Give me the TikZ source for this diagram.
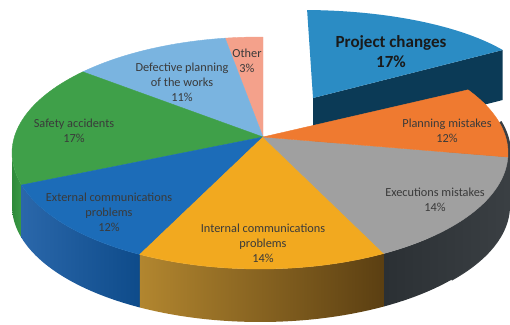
\documentclass[tikz,border=0pt]{standalone}
\usepackage{fontspec}
\setmainfont{Carlito}
\definecolor{cOther}{HTML}{F4A18B}
\definecolor{cDef}{HTML}{7AB4E0}
\definecolor{cSafe}{HTML}{3FA049}
\definecolor{cExt}{HTML}{1C6CB8}
\definecolor{cInt}{HTML}{F2A91F}
\definecolor{cExe}{HTML}{A0A0A0}
\definecolor{cPlan}{HTML}{EF7A30}
\definecolor{cProj}{HTML}{2B8CC4}
\definecolor{cProjSide}{HTML}{0B3A56}
\definecolor{sSafeL}{HTML}{2E8A3A}
\definecolor{sSafeR}{HTML}{3A9A45}
\definecolor{sExtL}{HTML}{2A67AA}
\definecolor{sExtR}{HTML}{0E4B8A}
\definecolor{sIntL}{HTML}{B2862F}
\definecolor{sIntR}{HTML}{5B3F12}
\definecolor{sExeL}{HTML}{2B3034}
\definecolor{sExeR}{HTML}{3A3F43}
\definecolor{labelgray}{HTML}{3A3A3A}
\definecolor{titleblack}{HTML}{1A1A1A}
\newcommand{\pieTop}[3]{%
  \filldraw[fill=#1, draw=#1, line width=0.4pt] (263,137) -- plot[domain=#2:#3, samples=40, variable=\t] ({260+248*cos(\t)},{153-116*sin(\t)}) -- cycle;}
\newcommand{\pieSide}[4]{%
  \shade[left color=#1, right color=#2] plot[domain=#3:#4, samples=30, variable=\t] ({260+248*cos(\t)},{153-116*sin(\t)}) -- plot[domain=#4:#3, samples=30, variable=\t] ({260+248*cos(\t)},{206-116*sin(\t)}) -- cycle;}
\begin{document}
\begin{tikzpicture}[x=1pt,y=-1pt,
  lbl/.style={text=labelgray, align=center, font=\fontsize{12.3}{14.8}\selectfont, inner sep=0pt},
  ttl/.style={text=titleblack, align=center, font=\bfseries\fontsize{17}{20}\selectfont, inner sep=0pt}]
\useasboundingbox (0,0) rectangle (510,324);
% exploded slice
\fill[cProjSide] (313,98) -- (502.7,50) -- (502.7,100) -- (313,148) -- cycle;
\fill[cProj] (313,98) -- plot[domain=89:31.8, samples=40, variable=\t] ({303+235*cos(\t)},{94.6-84.6*sin(\t)}) -- cycle;
% right-hand dark rim strip (perspective)
\fill[sExeR] plot[domain=16:-2, samples=20, variable=\t] ({263+248*cos(\t)},{153-116*sin(\t)}) -- plot[domain=-2:-40, samples=20, variable=\t] ({262+248*cos(\t)},{206-116*sin(\t)}) -- (400,180) -- cycle;
% sides
\pieSide{sSafeL}{sSafeR}{180}{196}
\pieSide{sExtL}{sExtR}{196}{241}
\pieSide{sIntL}{sIntR}{241}{300}
\pieSide{sExeL}{sExeR}{300}{360}
% tops
\pieTop{cOther}{89.3}{98.1}
\pieTop{cDef}{98.1}{135.6}
\pieTop{cSafe}{135.6}{196}
\pieTop{cExt}{196}{241}
\pieTop{cInt}{241}{300}
\pieTop{cExe}{300}{358}
\pieTop{cPlan}{358}{393}
% labels
\node[ttl] (proj) at (391,52) {Project changes\\17\%};
\node[lbl] (plan) at (447,131) {Planning mistakes\\12\%};
\node[lbl] (exe) at (435,200) {Executions mistakes\\14\%};
\node[lbl] (int) at (263,243) {Internal communications\\problems\\14\%};
\node[lbl] (ext) at (109,212) {External communications\\problems\\12\%};
\node[lbl] (safe) at (74,131) {Safety accidents\\17\%};
\node[lbl] (def) at (182,82) {Defective planning\\of the works\\11\%};
\node[lbl] (oth) at (247,60.5) {Other\\3\%};
\end{tikzpicture}
\end{document}
